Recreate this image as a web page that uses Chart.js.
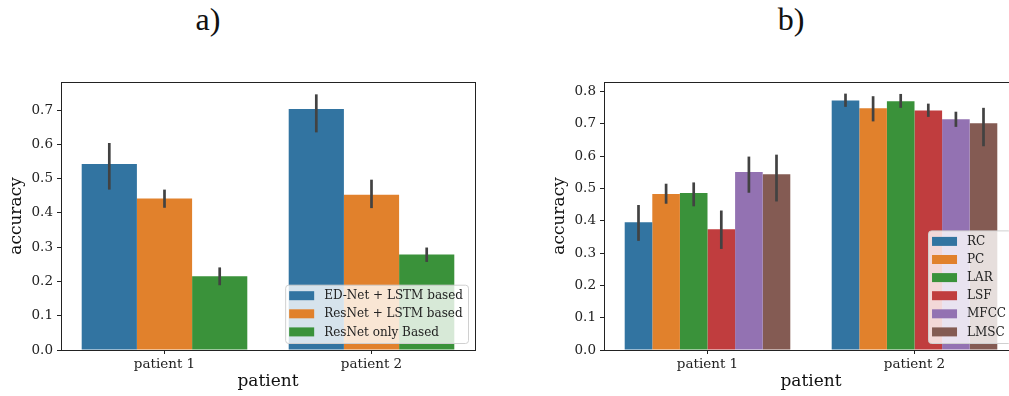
<!DOCTYPE html>
<html>
<head>
<meta charset="utf-8">
<script src="https://cdn.jsdelivr.net/npm/chart.js@4/dist/chart.umd.min.js"></script>
<style>
  html, body { margin: 0; padding: 0; background: #fff; }
  body { width: 1009px; height: 396px; overflow: hidden; position: relative; }
  canvas { position: absolute; top: 0; }
  #chartA { left: 0; }
  #chartB { left: 543px; }
  .panel-title {
    position: absolute; top: 3px;
    font: 32px/32px "Liberation Serif", serif; color: #111;
    transform: translateX(-50%);
  }
</style>
</head>
<body>
<div class="panel-title" style="left:208px">a)</div>
<div class="panel-title" style="left:791px">b)</div>
<canvas id="chartA" width="490" height="396"></canvas>
<canvas id="chartB" width="490" height="396"></canvas>
<script>
// ---- data ----
const patients = ["patient 1", "patient 2"];

// panel a)
const modelsA = ["ED-Net + LSTM based", "ResNet + LSTM based", "ResNet only Based"];
const accA    = [[0.543, 0.703], [0.442, 0.453], [0.215, 0.279]];
const lowA    = [[0.468, 0.635], [0.415, 0.414], [0.189, 0.257]];
const highA   = [[0.604, 0.746], [0.468, 0.497], [0.241, 0.299]];
const yTicksA = [0.0, 0.1, 0.2, 0.3, 0.4, 0.5, 0.6, 0.7];
const yMaxA = 0.782;

// panel b)
const featuresB = ["RC", "PC", "LAR", "LSF", "MFCC", "LMSC"];
const accB  = [[0.396, 0.773], [0.483, 0.749], [0.486, 0.770], [0.374, 0.742], [0.551, 0.715], [0.544, 0.702]];
const lowB  = [[0.338, 0.753], [0.453, 0.708], [0.445, 0.750], [0.313, 0.722], [0.487, 0.691], [0.460, 0.631]];
const highB = [[0.449, 0.794], [0.515, 0.786], [0.519, 0.793], [0.432, 0.763], [0.599, 0.738], [0.605, 0.750]];
const yTicksB = [0.0, 0.1, 0.2, 0.3, 0.4, 0.5, 0.6, 0.7, 0.8];
const yMaxB = 0.83;

// seaborn default palette (desaturated tab10)
const palette = ["#3274a1", "#e1812c", "#3a923a", "#c03d3e", "#9372b2", "#845b53"];

const serif = "'DejaVu Serif', serif";

// error bars, drawn on top of the bars
const errorBars = {
  id: "errorBars",
  afterDatasetsDraw(chart) {
    const ctx = chart.ctx;
    const y = chart.scales.y;
    ctx.save();
    ctx.strokeStyle = "#424242";
    ctx.lineWidth = 2.7;
    chart.data.datasets.forEach((ds, i) => {
      chart.getDatasetMeta(i).data.forEach((bar, j) => {
        ctx.beginPath();
        ctx.moveTo(bar.x, y.getPixelForValue(ds.errLow[j]));
        ctx.lineTo(bar.x, y.getPixelForValue(ds.errHigh[j]));
        ctx.stroke();
      });
    });
    ctx.restore();
  }
};

// axes box + legend in the lower right corner
const frameAndLegend = {
  id: "frameAndLegend",
  afterDraw(chart) {
    const ctx = chart.ctx;
    const a = chart.chartArea;
    ctx.save();
    ctx.strokeStyle = "#222";
    ctx.lineWidth = 1;
    ctx.strokeRect(Math.round(a.left) + 0.5, Math.round(a.top) + 0.5,
                   Math.round(a.right - a.left), Math.round(a.bottom - a.top));

    // legend
    const items = chart.data.datasets;
    ctx.font = "12px " + serif;
    const textW = Math.max(...items.map(d => ctx.measureText(d.label).width));
    const rowH = 18.1;
    const w = 4 + 35 + textW + 5;
    const h = items.length * rowH + 4;
    const x0 = a.right - 7 - w;
    const y0 = a.bottom - 7 - h;
    ctx.beginPath();
    ctx.roundRect(x0 + 0.5, y0 + 0.5, w, h, 3);
    ctx.fillStyle = "rgba(255,255,255,0.8)";
    ctx.fill();
    ctx.strokeStyle = "#d0d0d0";
    ctx.stroke();
    items.forEach((d, i) => {
      const cy = y0 + 11 + i * rowH;
      ctx.fillStyle = d.backgroundColor;
      ctx.fillRect(x0 + 4, cy - 4.5, 25, 9);
      ctx.fillStyle = "#222";
      ctx.textBaseline = "middle";
      ctx.fillText(d.label, x0 + 39, cy + 0.5);
    });
    ctx.restore();
  }
};

function makeChart(id, labels, acc, low, high, yTicks, yMax) {
  const datasets = labels.map((lab, i) => ({
    label: lab,
    data: acc[i],
    errLow: low[i],
    errHigh: high[i],
    backgroundColor: palette[i],
    borderWidth: 0,
    categoryPercentage: 0.8,
    barPercentage: 1.0
  }));
  return new Chart(document.getElementById(id), {
    type: "bar",
    data: { labels: patients, datasets },
    options: {
      responsive: false,
      animation: false,
      layout: { padding: { top: 82, right: 15, left: 0, bottom: 0 } },
      plugins: { legend: { display: false }, tooltip: { enabled: false } },
      scales: {
        x: {
          afterFit: s => { s.height = 46; },
          grid: { offset: false, drawOnChartArea: false, drawTicks: true, tickLength: 4, color: "#222" },
          border: { display: false },
          ticks: { font: { family: serif, size: 13.5 }, color: "#222", padding: 2, maxRotation: 0 },
          title: { display: true, text: "patient", font: { family: serif, size: 17 }, color: "#111", padding: { top: 0, bottom: 4 } }
        },
        y: {
          min: 0,
          max: yMax,
          afterFit: s => { s.width = 61; },
          afterBuildTicks: s => { s.ticks = yTicks.map(v => ({ value: v })); },
          grid: { drawOnChartArea: false, drawTicks: true, tickLength: 4, color: "#222" },
          border: { display: false },
          ticks: {
            font: { family: serif, size: 13.5 },
            color: "#222",
            padding: 4,
            callback: v => Number(v).toFixed(1)
          },
          title: { display: true, text: "accuracy", font: { family: serif, size: 17 }, color: "#111", padding: { top: 6, bottom: 0 } }
        }
      }
    },
    plugins: [errorBars, frameAndLegend]
  });
}

makeChart("chartA", modelsA, accA, lowA, highA, yTicksA, yMaxA);
makeChart("chartB", featuresB, accB, lowB, highB, yTicksB, yMaxB);
</script>
</body>
</html>
